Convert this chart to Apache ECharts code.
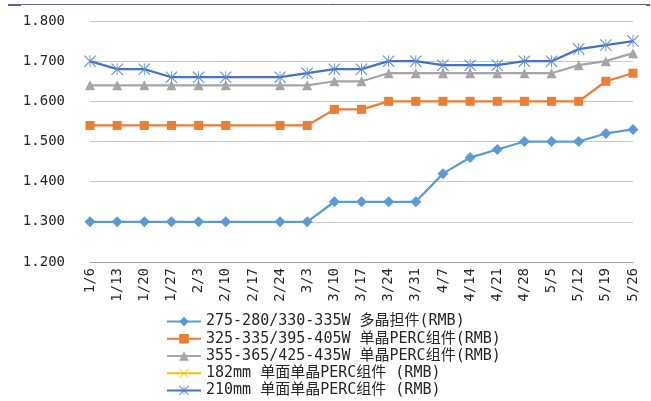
<!DOCTYPE html>
<html>
<head>
<meta charset="utf-8">
<script src="https://cdn.jsdelivr.net/npm/echarts@6/dist/echarts.min.js"></script>
<style>
  html, body { margin: 0; padding: 0; background: #ffffff; }
  #chart { width: 651px; height: 401px; }
</style>
</head>
<body>
<div id="chart"></div>
<script>
// Weekly module prices (RMB/W), Jan 6 – May 26; 2/17 had no quote
const weeks = ['1/6','1/13','1/20','1/27','2/3','2/10','2/17','2/24','3/3','3/10','3/17','3/24','3/31','4/7','4/14','4/21','4/28','5/5','5/12','5/19','5/26'];

const seriesNames = [
  '275-280/330-335W 多晶担件(RMB)',
  '325-335/395-405W 单晶PERC组件(RMB)',
  '355-365/425-435W 单晶PERC组件(RMB)',
  '182mm 单面单晶PERC组件 (RMB)',
  '210mm 单面单晶PERC组件 (RMB)'
];

const polyModule = [1.30,1.30,1.30,1.30,1.30,1.30,null,1.30,1.30,1.35,1.35,1.35,1.35,1.42,1.46,1.48,1.50,1.50,1.50,1.52,1.53];
const monoPerc395 = [1.54,1.54,1.54,1.54,1.54,1.54,null,1.54,1.54,1.58,1.58,1.60,1.60,1.60,1.60,1.60,1.60,1.60,1.60,1.65,1.67];
const monoPerc425 = [1.64,1.64,1.64,1.64,1.64,1.64,null,1.64,1.64,1.65,1.65,1.67,1.67,1.67,1.67,1.67,1.67,1.67,1.69,1.70,1.72];
const mono182 = [];
const mono210 = [1.70,1.68,1.68,1.66,1.66,1.66,null,1.66,1.67,1.68,1.68,1.70,1.70,1.69,1.69,1.69,1.70,1.70,1.73,1.74,1.75];

const yTicks = { min: 1.2, max: 1.8, step: 0.1 };

// Marker shapes drawn as thin filled bars
const crossPath = 'path://M0,1.2L1.2,0L20,18.8L18.8,20Z M18.8,0L20,1.2L1.2,20L0,18.8Z';
const starPath = 'path://M0,1.2L1.2,0L20,18.8L18.8,20Z M18.8,0L20,1.2L1.2,20L0,18.8Z M9.3,0L10.7,0L10.7,20L9.3,20Z';

const monoFont = "'DejaVu Sans Mono', 'Noto Sans CJK SC', monospace";

function lineSeries(name, data, color, symbol, size, markColor) {
  return {
    name: name,
    type: 'line',
    data: data,
    connectNulls: true,
    symbol: symbol,
    symbolSize: size,
    showAllSymbol: true,
    lineStyle: { color: color, width: 2.25 },
    itemStyle: { color: markColor || color },
    z: 2
  };
}

const chart = echarts.init(document.getElementById('chart'), null, { renderer: 'canvas' });
chart.setOption({
  animation: false,
  backgroundColor: '#ffffff',
  grid: { left: 90, right: 18, top: 21, height: 241, containLabel: false },
  xAxis: {
    type: 'category',
    data: weeks,
    boundaryGap: false,
    axisLine: { show: true, lineStyle: { color: '#a6a6a6', width: 1 } },
    axisTick: { show: false },
    axisLabel: {
      rotate: 90,
      interval: 0,
      margin: 6,
      color: '#262626',
      fontFamily: monoFont,
      fontSize: 14
    },
    splitLine: { show: false }
  },
  yAxis: {
    type: 'value',
    min: yTicks.min,
    max: yTicks.max,
    interval: yTicks.step,
    axisLine: { show: false },
    axisTick: { show: false },
    axisLabel: {
      margin: 25,
      color: '#262626',
      fontFamily: monoFont,
      fontSize: 14,
      formatter: v => v.toFixed(3)
    },
    splitLine: { lineStyle: { color: '#c9c9c9', width: 1 } }
  },
  legend: {
    orient: 'vertical',
    left: 166,
    top: 313,
    padding: 0,
    itemWidth: 34,
    itemHeight: 12,
    itemGap: 0,
    textStyle: {
      fontFamily: monoFont,
      fontSize: 15,
      lineHeight: 17.2,
      color: '#262626'
    },
    data: seriesNames
  },
  series: [
    lineSeries(seriesNames[0], polyModule, '#5b9bd5', 'diamond', 11),
    lineSeries(seriesNames[1], monoPerc395, '#ed7d31', 'rect', 9),
    lineSeries(seriesNames[2], monoPerc425, '#a5a5a5', 'triangle', 10),
    lineSeries(seriesNames[3], mono182, '#ffc000', crossPath, 10),
    lineSeries(seriesNames[4], mono210, '#4472c4', starPath, 12, '#5b8bd8')
  ],
  graphic: [
    { type: 'line', shape: { x1: 8, y1: 4.5, x2: 649, y2: 4.5 }, style: { stroke: '#5f5f94', lineWidth: 1 }, silent: true },
    { type: 'line', shape: { x1: 8, y1: 5, x2: 21, y2: 5 }, style: { stroke: '#5f5f94', lineWidth: 2 }, silent: true },
    { type: 'line', shape: { x1: 646, y1: 5, x2: 650, y2: 5 }, style: { stroke: '#5f5f94', lineWidth: 2 }, silent: true }
  ]
});
</script>
</body>
</html>
